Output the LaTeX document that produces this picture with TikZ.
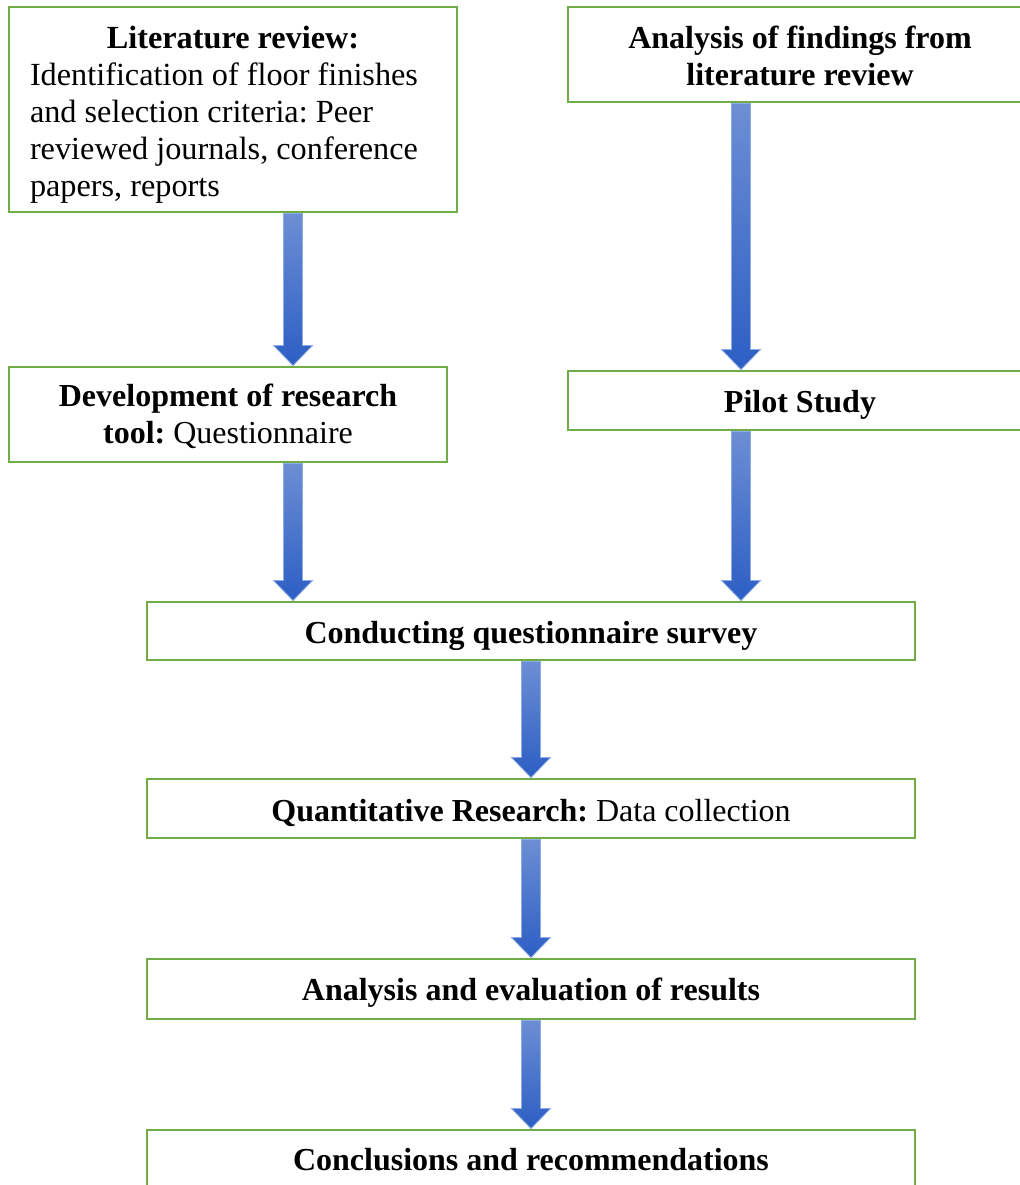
\documentclass[tikz,border=0pt]{standalone}
\usepackage{fontspec}
\setmainfont{Liberation Serif}
\usetikzlibrary{backgrounds,calc}
\definecolor{boxgreen}{RGB}{112,173,71}
\definecolor{arrtop}{RGB}{108,142,212}
\definecolor{arrbot}{RGB}{44,94,196}
\definecolor{arredge}{RGB}{140,170,228}
\tikzset{
  flowbox/.style={draw=boxgreen, line width=2.2pt, rectangle, inner sep=0pt},
  boxtext/.style={inner sep=0pt, align=center, font=\frenchspacing\fontsize{24}{27.75}\selectfont},
}
% block arrow: #1 = x (px), #2 = source node, #3 = target node
\newcommand\blockarrow[3]{%
  \path let \p1=(#2.south), \p2=(#3.north) in
    [shade, top color=arrtop, bottom color=arrbot, draw=arredge, line width=0.6pt]
    ({#1*0.75pt-7.1pt},\y1) -- ({#1*0.75pt+7.1pt},\y1) --
    ({#1*0.75pt+7.1pt},{\y2+15pt}) -- ({#1*0.75pt+14.6pt},{\y2+15pt}) --
    ({#1*0.75pt},\y2) -- ({#1*0.75pt-14.6pt},{\y2+15pt}) --
    ({#1*0.75pt-7.1pt},{\y2+15pt}) -- cycle;}
\begin{document}
\begin{tikzpicture}[x=0.75pt,y=-0.75pt]
\path[use as bounding box] (0,0) rectangle (1020,1185);
\clip (0,0) rectangle (1020,1185);

% boxes
\node[flowbox, minimum width=336pt, minimum height=153.75pt] (lit) at (233,109.5) {};
\node[flowbox, minimum width=348pt, minimum height=71.25pt] (ana) at (800,54.5) {};
\node[flowbox, minimum width=328.5pt, minimum height=71.25pt] (dev) at (228,414.5) {};
\node[flowbox, minimum width=348pt, minimum height=44.25pt] (pil) at (800,400.5) {};
\node[flowbox, minimum width=576pt, minimum height=43.5pt] (con) at (531,631) {};
\node[flowbox, minimum width=576pt, minimum height=44.25pt] (qua) at (531,808.5) {};
\node[flowbox, minimum width=576pt, minimum height=45pt] (eva) at (531,989) {};
\node[flowbox, minimum width=576pt, minimum height=45pt] (clu) at (531,1160) {};

% texts
\node[boxtext, text width=304.5pt, align=flush left,
      font=\frenchspacing\fontsize{24.2}{27.75}\selectfont] (lit-t) at ([yshift=-4pt]lit.center)
  {\makebox[304.5pt][c]{\textbf{Literature review:}}\\
   Identification of floor finishes\\
   and selection criteria: Peer\\
   reviewed journals, conference\\
   papers, reports};
\node[boxtext] (ana-t) at ([yshift=-1pt]ana.center)
  {\textbf{Analysis of findings from}\\ \textbf{literature review}};
\node[boxtext] (dev-t) at ([yshift=-1.5pt]dev.center)
  {\textbf{Development of research}\\ \textbf{tool:} Questionnaire};
\node[boxtext] (pil-t) at ([yshift=-3.5pt]pil.center) {\textbf{Pilot Study}};
\node[boxtext] (con-t) at ([yshift=-4pt]con.center) {\textbf{Conducting questionnaire survey}};
\node[boxtext] (qua-t) at ([yshift=-3pt]qua.center) {\textbf{Quantitative Research:} Data collection};
\node[boxtext] (eva-t) at ([yshift=-3pt]eva.center) {\textbf{Analysis and evaluation of results}};
\node[boxtext, anchor=base] (clu-t) at ([yshift=-7.5pt]clu.center)
  {\textbf{Conclusions and recommendations}};

\begin{scope}[on background layer]
\fill[white] (0,0) rectangle (1020,1185);
\blockarrow{293}{lit}{dev}
\blockarrow{741}{ana}{pil}
\blockarrow{293}{dev}{con}
\blockarrow{741}{pil}{con}
\blockarrow{531}{con}{qua}
\blockarrow{531}{qua}{eva}
\blockarrow{531}{eva}{clu}
\end{scope}
\end{tikzpicture}
\end{document}
